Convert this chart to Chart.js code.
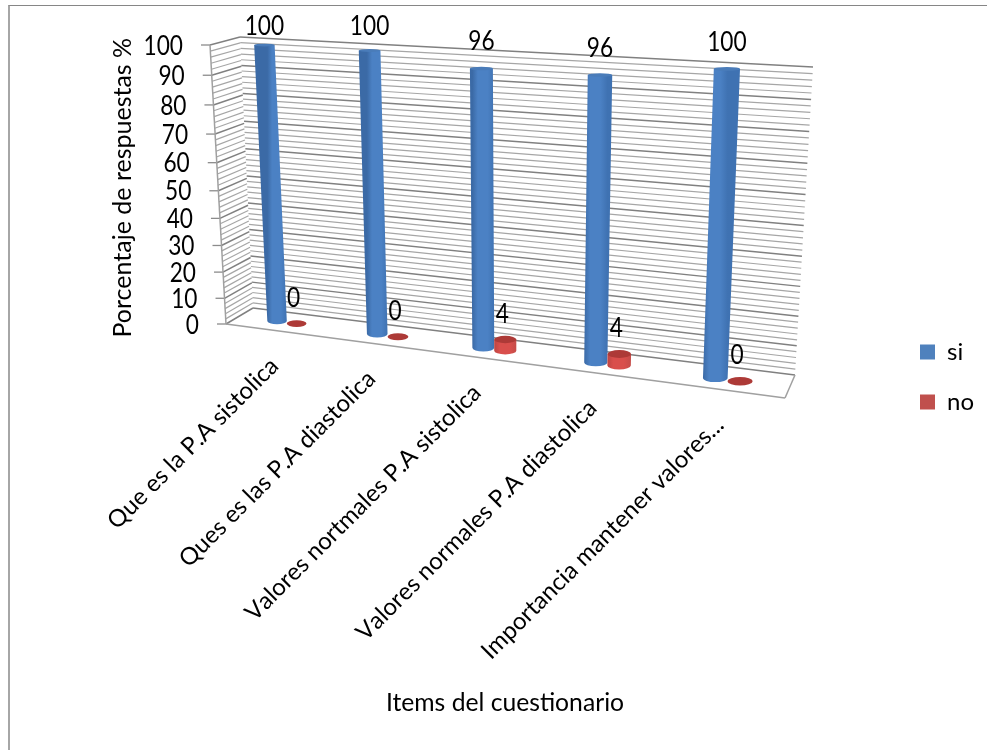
<!DOCTYPE html>
<html>
<head>
<meta charset="utf-8">
<title>Items del cuestionario</title>
<script src="https://cdn.jsdelivr.net/npm/chart.js@4"></script>
<style>
   html, body { margin: 0; padding: 0; background: #fff; overflow: hidden; }
   #wrap { position: relative; width: 987px; height: 750px; }
   #frame { position: absolute; left: 8px; top: 5px; right: 0; bottom: 0;
            border-top: 1px solid #868686; border-left: 2px solid #a6a6a6; }
   canvas { position: absolute; left: 0; top: 0; }
</style>
</head>
<body>
<div id="wrap">
   <div id="frame"></div>
   <canvas id="myChart" width="987" height="750"></canvas>
</div>
<script>
//Chart data
const categories = [
   'Que es la P.A sistolica',
   'Ques es las P.A diastolica',
   'Valores nortmales P.A sistolica',
   'Valores normales P.A diastolica',
   'Importancia mantener valores...'
];
const siValues = [100, 100, 96, 96, 100];
const noValues = [0, 0, 4, 4, 0];
const yMinorStep = 2;
const yMajorStep = 10;

//Corners of the 3D box on the page: top-left, top-right, bottom-right, bottom-left
const barPlane = [[224, 43], [807, 73], [790.6, 387.7], [238.5, 316]];
const backWall = [[240, 37], [813, 67], [795, 375], [253, 308]];
const sideWall = [[210, 45], [240, 37], [253, 308], [226, 324]];
const floorPlane = [[253, 308], [795, 375], [785, 398], [226, 324]];

const FONT = 'Lato, Carlito, sans-serif';

//Maps the unit square onto a quad (perspective)
function makeHomography(q) {
   const [[x0, y0], [x1, y1], [x2, y2], [x3, y3]] = q;
   const dx1 = x1 - x2, dx2 = x3 - x2, sx = x0 - x1 + x2 - x3;
   const dy1 = y1 - y2, dy2 = y3 - y2, sy = y0 - y1 + y2 - y3;
   const den = dx1 * dy2 - dx2 * dy1;
   const g = (sx * dy2 - dx2 * sy) / den;
   const h = (dx1 * sy - sx * dy1) / den;
   const a = x1 - x0 + g * x1, b = x3 - x0 + h * x3;
   const d = y1 - y0 + g * y1, e = y3 - y0 + h * y3;
   return (u, v) => {
      const w = g * u + h * v + 1;
      return { x: (a * u + b * v + x0) / w, y: (d * u + e * v + y0) / w };
   };
}

const toBars = makeHomography(barPlane);
const toBack = makeHomography(backWall);
const toSide = makeHomography(sideWall);
const toFloor = makeHomography(floorPlane);

function line(ctx, a, b, color, width) {
   ctx.strokeStyle = color;
   ctx.lineWidth = width;
   ctx.beginPath();
   ctx.moveTo(a.x, a.y);
   ctx.lineTo(b.x, b.y);
   ctx.stroke();
}

//Numbers are set tall and narrow
function drawNumber(ctx, text, x, y, align) {
   ctx.save();
   ctx.translate(x, y);
   ctx.scale(0.84, 1);
   ctx.fillStyle = '#000';
   ctx.font = '27px ' + FONT;
   ctx.textAlign = align;
   ctx.textBaseline = 'middle';
   ctx.fillText(text, 0, 0);
   ctx.restore();
}

//Walls, floor and the tick labels that run along the slanted axis
function drawBox(chart) {
   const { ctx, chartArea: area, scales: { x: xScale, y: yScale } } = chart;
   const vOf = (val) => (yScale.getPixelForValue(val) - area.top) / area.height;

   yScale.ticks.forEach((tick) => {
      const v = vOf(tick.value);
      const major = tick.value % yMajorStep === 0;
      const color = major ? '#808080' : '#a6a6a6';
      const width = major ? 1.5 : 1.2;
      line(ctx, toSide(0, v), toSide(1, v), color, width);
      line(ctx, toBack(0, v), toBack(1, v), color, width);
      if (major) {
         const front = toSide(0, v);
         line(ctx, { x: front.x - 9, y: front.y }, front, '#8c8c8c', 1.3);
         drawNumber(ctx, String(tick.value), front.x - 27, front.y + 1, 'right');
      }
   });

   line(ctx, toSide(0, 0), toSide(0, 1), '#a0a0a0', 1.5);
   line(ctx, toFloor(1, 0), toFloor(1, 1), '#a0a0a0', 1.5);
   line(ctx, toFloor(0, 1), toFloor(1, 1), '#a0a0a0', 1.5);

   //Category labels hang under the front edge of the floor
   categories.forEach((label, i) => {
      const u = (xScale.getPixelForValue(i) - area.left) / area.width;
      const p = toFloor(u, 1);
      ctx.save();
      ctx.translate(p.x + 3, p.y + 32);
      ctx.rotate(-Math.PI / 4);
      ctx.fillStyle = '#000';
      ctx.font = '24px ' + FONT;
      ctx.fontKerning = 'none';
      ctx.textAlign = 'right';
      ctx.textBaseline = 'middle';
      ctx.fillText(label, 0, 0);
      ctx.restore();
   });
}

//One cylinder per bar element, laid out by the bar's own x / y / base / width
function drawCylinder(chart, el, colors) {
   const { ctx, chartArea: area } = chart;
   const uOf = (px) => (px - area.left) / area.width;
   const vOf = (py) => (py - area.top) / area.height;
   const half = el.width / 2;
   const bl = toBars(uOf(el.x - half), vOf(el.base));
   const br = toBars(uOf(el.x + half), vOf(el.base));
   const tl = toBars(uOf(el.x - half), vOf(el.y));
   const tr = toBars(uOf(el.x + half), vOf(el.y));
   const baseC = { x: (bl.x + br.x) / 2, y: (bl.y + br.y) / 2 };
   const topC = { x: (tl.x + tr.x) / 2, y: (tl.y + tr.y) / 2 };
   const rxBase = (br.x - bl.x) / 2;
   const rxTop = (tr.x - tl.x) / 2;
   //the lower the ellipse sits, the more of it is seen from above
   const ryBase = rxBase * 0.34;
   const ryTop = rxTop * (0.14 + 0.2 * vOf(el.y));

   if (baseC.y - topC.y > 1) {
      const grad = ctx.createLinearGradient(bl.x, 0, br.x, 0);
      grad.addColorStop(0, colors.edge);
      grad.addColorStop(0.25, colors.light);
      grad.addColorStop(0.7, colors.light);
      grad.addColorStop(1, colors.side);
      ctx.fillStyle = grad;
      ctx.beginPath();
      ctx.moveTo(tl.x, topC.y);
      ctx.lineTo(bl.x, baseC.y);
      ctx.ellipse(baseC.x, baseC.y, rxBase, ryBase, 0, Math.PI, 0, true);
      ctx.lineTo(tr.x, topC.y);
      ctx.closePath();
      ctx.fill();
   }
   ctx.fillStyle = colors.cap;
   ctx.beginPath();
   ctx.ellipse(topC.x, topC.y, rxTop, ryTop, 0, 0, Math.PI * 2);
   ctx.fill();
   return { x: topC.x, y: topC.y };
}

const blueCyl = { edge: '#3b6aa6', light: '#4b81c4', side: '#3f72b2', cap: '#4a7cb9' };
const redCyl = { edge: '#bd4542', light: '#d94f4c', side: '#c54c49', cap: '#ad3a37' };

const box3d = {
   id: 'box3d',
   beforeDatasetsDraw(chart) {
      const { ctx } = chart;
      ctx.save();
      drawBox(chart);
      const labels = [];
      chart.data.datasets.forEach((ds, d) => {
         const meta = chart.getDatasetMeta(d);
         meta.data.forEach((el, i) => {
            const top = drawCylinder(chart, el, d === 0 ? blueCyl : redCyl);
            labels.push({
               text: String(ds.data[i]),
               x: top.x + (d === 0 ? 0 : -3),
               y: top.y - (d === 0 ? 27 : 25.5)
            });
         });
      });
      labels.forEach((l) => drawNumber(ctx, l.text, l.x, Math.max(l.y, 26), 'center'));
      ctx.restore();
      return false; //the flat rectangles are replaced by the cylinders
   }
};

const ctx = document.getElementById('myChart').getContext('2d');
const myChart = new Chart(ctx, {
   type: 'bar',
   data: {
      labels: categories,
      datasets: [
         { label: 'si', data: siValues, backgroundColor: '#4f81bd', borderWidth: 0 },
         { label: 'no', data: noValues, backgroundColor: '#c0504d', borderWidth: 0 }
      ]
   },
   options: {
      responsive: false,
      animation: false,
      devicePixelRatio: 1,
      layout: { padding: { left: 108, top: 50, right: 3, bottom: 46 } },
      datasets: { bar: { categoryPercentage: 0.4, barPercentage: 1 } },
      scales: {
         x: {
            grid: { display: false },
            border: { display: false },
            ticks: { display: false },
            title: {
               display: true,
               text: 'Items del cuestionario',
               color: '#000',
               font: { family: FONT, size: 24.7 },
               padding: { top: 355, bottom: -14 }
            }
         },
         y: {
            min: 0,
            max: 100,
            grid: { display: false },
            border: { display: false },
            ticks: { display: false, stepSize: yMinorStep },
            title: {
               display: true,
               text: 'Porcentaje de respuestas %',
               color: '#000',
               font: { family: FONT, size: 25 },
               padding: { top: 0, bottom: -30 }
            }
         }
      },
      plugins: {
         tooltip: { enabled: false },
         legend: {
            position: 'right',
            labels: {
               boxWidth: 15,
               boxHeight: 15,
               padding: 26,
               color: '#000',
               font: { family: FONT, size: 24 }
            }
         }
      }
   },
   plugins: [box3d]
});
</script>
</body>
</html>
